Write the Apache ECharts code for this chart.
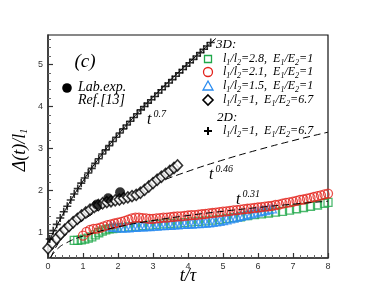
<!DOCTYPE html>
<html><head><meta charset="utf-8">
<script src="https://cdn.jsdelivr.net/npm/echarts@6/dist/echarts.min.js"></script>
<style>html,body{margin:0;padding:0;background:#fff}#c{width:374px;height:291px}</style>
</head><body><div id="c"></div>
<script>
// ---- data ----
const xTicks = [0,1,2,3,4,5,6,7,8];
const yTicks = [1,2,3,4,5];
const yMinorTicks = [0.4,0.6,0.8,1.2,1.4,1.6,1.8,2.2,2.4,2.6,2.8,3.2,3.4,3.6,3.8,4.2,4.4,4.6,4.8,5.2,5.4,5.6];

// 2D: l1/l2=1, E1/E2=6.7 (plus)
const plus2D = [[0.05,0.85],[0.15,1.05],[0.25,1.2],[0.35,1.35],[0.45,1.5],[0.55,1.63],[0.65,1.78],[0.75,1.92],[0.85,2.05],[0.95,2.18],[1.05,2.3],[1.15,2.42],[1.25,2.53],[1.35,2.65],[1.45,2.76],[1.55,2.87],[1.65,2.97],[1.75,3.07],[1.85,3.17],[1.95,3.27],[2.05,3.37],[2.15,3.47],[2.25,3.56],[2.35,3.65],[2.45,3.74],[2.55,3.83],[2.65,3.92],[2.75,4.0],[2.85,4.08],[2.95,4.16],[3.05,4.24],[3.15,4.32],[3.25,4.4],[3.35,4.48],[3.45,4.56],[3.55,4.64],[3.65,4.72],[3.75,4.8],[3.85,4.88],[3.95,4.96],[4.05,5.04],[4.15,5.12],[4.25,5.2],[4.35,5.28],[4.45,5.36],[4.55,5.44],[4.65,5.52]];

// 3D: l1/l2=1, E1/E2=6.7 (diamond)
const diamond3D = [[0.0,0.63],[0.12,0.75],[0.24,0.86],[0.36,0.97],[0.48,1.07],[0.6,1.16],[0.72,1.25],[0.84,1.33],[0.96,1.41],[1.08,1.48],[1.2,1.55],[1.32,1.61],[1.44,1.66],[1.56,1.7],[1.68,1.73],[1.8,1.75],[1.92,1.77],[2.04,1.79],[2.16,1.82],[2.28,1.84],[2.4,1.87],[2.52,1.9],[2.64,1.95],[2.76,2.02],[2.88,2.1],[3.0,2.18],[3.12,2.26],[3.24,2.33],[3.36,2.4],[3.48,2.47],[3.6,2.54],[3.7,2.6]];

// Lab. exp. Ref.[13]
const labExp = [[1.4,1.67],[1.72,1.82],[2.06,1.96]];

// 3D: l1/l2=2.8 (square)
const square28 = [[0.75,0.82],[0.85,0.82],[0.95,0.83],[1.05,0.85],[1.15,0.87],[1.25,0.9],[1.35,0.95],[1.45,1.0],[1.55,1.04],[1.65,1.07],[1.75,1.09],[1.85,1.1],[1.95,1.11],[2.1,1.12],[2.3,1.14],[2.5,1.15],[2.7,1.17],[2.9,1.18],[3.1,1.2],[3.3,1.21],[3.5,1.22],[3.7,1.23],[3.9,1.24],[4.1,1.26],[4.3,1.27],[4.5,1.28],[4.7,1.3],[4.9,1.32],[5.1,1.34],[5.3,1.36],[5.5,1.38],[5.7,1.41],[5.9,1.43],[6.1,1.45],[6.3,1.47],[6.5,1.49],[6.7,1.51],[6.9,1.54],[7.1,1.57],[7.3,1.6],[7.5,1.63],[7.7,1.66],[7.9,1.7],[8.0,1.72]];

// 3D: l1/l2=2.1 (circle)
const circle21 = [[1.0,0.93],[1.1,1.02],[1.2,1.07],[1.3,1.09],[1.4,1.1],[1.5,1.12],[1.6,1.15],[1.7,1.18],[1.8,1.2],[1.9,1.22],[2.0,1.24],[2.1,1.26],[2.2,1.28],[2.3,1.31],[2.4,1.34],[2.5,1.36],[2.6,1.36],[2.7,1.35],[2.8,1.34],[2.9,1.33],[3.0,1.33],[3.1,1.34],[3.2,1.35],[3.3,1.36],[3.4,1.36],[3.5,1.37],[3.6,1.38],[3.7,1.39],[3.8,1.39],[3.9,1.4],[4.0,1.41],[4.1,1.42],[4.2,1.42],[4.3,1.43],[4.4,1.44],[4.5,1.45],[4.6,1.46],[4.7,1.47],[4.8,1.48],[4.9,1.49],[5.0,1.5],[5.1,1.51],[5.2,1.52],[5.3,1.53],[5.4,1.54],[5.5,1.55],[5.6,1.56],[5.7,1.57],[5.8,1.58],[5.9,1.59],[6.0,1.6],[6.1,1.61],[6.2,1.62],[6.3,1.63],[6.4,1.64],[6.5,1.66],[6.6,1.67],[6.7,1.69],[6.8,1.71],[6.9,1.72],[7.0,1.74],[7.1,1.76],[7.2,1.78],[7.3,1.79],[7.4,1.81],[7.5,1.83],[7.6,1.85],[7.7,1.87],[7.8,1.89],[7.9,1.91],[8.0,1.93]];

// 3D: l1/l2=1.5 (triangle)
const triangle15 = [[1.8,1.15],[1.9,1.14],[2.0,1.13],[2.1,1.13],[2.2,1.13],[2.3,1.13],[2.4,1.14],[2.5,1.14],[2.6,1.15],[2.7,1.15],[2.8,1.16],[2.9,1.16],[3.0,1.17],[3.1,1.17],[3.2,1.18],[3.3,1.18],[3.4,1.19],[3.5,1.19],[3.6,1.2],[3.7,1.2],[3.8,1.21],[3.9,1.21],[4.0,1.22],[4.1,1.22],[4.2,1.23],[4.3,1.23],[4.4,1.24],[4.5,1.24],[4.6,1.25],[4.7,1.26],[4.8,1.27],[4.9,1.28],[5.0,1.3],[5.1,1.32],[5.2,1.34],[5.3,1.36],[5.4,1.38],[5.5,1.4],[5.6,1.42],[5.7,1.44],[5.8,1.46],[5.9,1.48],[6.0,1.5],[6.1,1.52],[6.2,1.54],[6.3,1.56],[6.4,1.58]];

// fitted power-law guide lines
const fit07 = [[0.0,0.75],[0.5,1.55],[1.0,2.23],[1.5,2.82],[2.0,3.33],[2.5,3.79],[3.0,4.22],[3.5,4.63],[4.0,5.02],[4.5,5.4],[4.8,5.62]];
const fit046 = [[0.08,0.41],[0.25,0.69],[0.5,0.95],[1,1.3],[2,1.79],[3,2.15],[4,2.46],[5,2.73],[6,2.97],[7,3.19],[8,3.39]];
const fit031 = [[0.07,0.41],[0.25,0.6],[0.5,0.75],[1,0.92],[2,1.14],[3,1.29],[4,1.41],[5,1.51],[6,1.6],[7,1.68],[8,1.75]];

// ---- chart ----
const chart = echarts.init(document.getElementById('c'), null, {renderer:'canvas'});
const serif = '"Liberation Serif","Times New Roman",serif';
const PLUS = 'path://M4,0H6V4H10V6H6V10H4V6H0V4H4Z';
const GREEN = '#1fa84a', RED = '#e3231c', BLUE = '#2a8cf0';
const sub = {fontFamily:serif, fontStyle:'italic', fontSize:8, padding:[7,0,0,0]};
const it = {fontFamily:serif, fontStyle:'italic', fontSize:12};
const legRich = {i:it, s:sub};
function lab(a,b){return '{i|l}{s|1}{i|/l}{s|2}{i|='+a+',  E}{s|1}{i|/E}{s|2}{i|='+b+'}';}

const yMin = 0.4, yMax = 5.7;
chart.setOption({
  animation:false,
  grid:{left:48,right:46,top:35,bottom:33,show:true,borderColor:'#111',borderWidth:1.2,backgroundColor:'transparent'},
  xAxis:{type:'value',min:0,max:8,interval:1,
    axisLine:{show:true,onZero:false,lineStyle:{color:'#333',width:1.5}},
    axisTick:{show:true,inside:true,length:5,lineStyle:{color:'#333',width:1.2}},
    minorTick:{show:true,splitNumber:5,length:3,lineStyle:{color:'#666'}},
    axisLabel:{color:'#333',fontSize:9,fontFamily:'"Liberation Sans",Arial,sans-serif',margin:4,
      formatter:v=>xTicks.includes(v)?String(v):''},
    splitLine:{show:false}},
  yAxis:[{type:'value',min:yMin,max:yMax,
    axisLine:{show:true,onZero:false,lineStyle:{color:'#333',width:1.5}},
    axisTick:{show:true,inside:true,length:5,customValues:yTicks,lineStyle:{color:'#333',width:1.2}},
    axisLabel:{color:'#333',fontSize:9,fontFamily:'"Liberation Sans",Arial,sans-serif',margin:5,customValues:yTicks},
    splitLine:{show:false}},
   {type:'value',min:yMin,max:yMax,position:'left',
    axisLine:{show:false},
    axisTick:{show:true,inside:true,length:3,customValues:yMinorTicks,lineStyle:{color:'#666'}},
    axisLabel:{show:false},splitLine:{show:false}}],
  series:[
    {type:'line',data:fit046,smooth:true,symbol:'none',lineStyle:{color:'#000',width:1,type:[7,4]},z:1},
    {type:'line',data:fit07,smooth:true,symbol:'none',lineStyle:{color:'#000',width:1},z:1},
    {type:'scatter',data:square28,symbol:'rect',symbolSize:8,itemStyle:{color:'rgba(0,0,0,0)',borderColor:GREEN,borderWidth:1.3},z:2},
    {type:'scatter',data:triangle15,symbol:'triangle',symbolSize:9,itemStyle:{color:'rgba(0,0,0,0)',borderColor:BLUE,borderWidth:1.3},z:3},
    {type:'scatter',data:circle21,symbol:'circle',symbolSize:9,itemStyle:{color:'rgba(0,0,0,0)',borderColor:RED,borderWidth:1.3},z:4},
    {type:'line',data:fit031,smooth:true,symbol:'none',lineStyle:{color:'#000',width:1,type:[7,4]},z:5},
    {type:'scatter',data:diamond3D,symbol:'diamond',symbolSize:[10,11],itemStyle:{color:'#fff',borderColor:'#000',borderWidth:1.6},z:6},
    {type:'scatter',data:plus2D,symbol:PLUS,symbolSize:8,itemStyle:{color:'#000'},z:7},
    {type:'scatter',data:labExp,symbol:'circle',symbolSize:10,itemStyle:{color:'#000'},z:8}
  ],
  graphic:[
    {type:'text',x:20,y:150,rotation:Math.PI/2,style:{text:'{a|Δ(t)/l}{b|1}',rich:{a:{fontFamily:serif,fontStyle:'italic',fontSize:18},b:{fontFamily:serif,fontStyle:'italic',fontSize:10,padding:[9,0,0,0]}},align:'center',verticalAlign:'middle'}},
    {type:'text',x:188,y:276,style:{text:'t/τ',fontFamily:serif,fontStyle:'italic',fontSize:18,align:'center',verticalAlign:'middle',fill:'#000'}},
    {type:'text',x:85,y:62,style:{text:'(c)',fontFamily:serif,fontStyle:'italic',fontSize:19,align:'center',verticalAlign:'middle',fill:'#000'}},
    {type:'circle',shape:{cx:67,cy:88,r:4.8},style:{fill:'#000'}},
    {type:'text',x:78,y:87,style:{text:'Lab.exp.',fontFamily:serif,fontStyle:'italic',fontSize:14,verticalAlign:'middle',fill:'#000'}},
    {type:'text',x:78,y:100,style:{text:'Ref.[13]',fontFamily:serif,fontStyle:'italic',fontSize:14,verticalAlign:'middle',fill:'#000'}},
    {type:'text',x:147,y:120,style:{text:'{t|t}{p|0.7}',rich:{t:{fontFamily:serif,fontStyle:'italic',fontSize:16},p:{fontFamily:serif,fontStyle:'italic',fontSize:10,padding:[0,0,12,2]}},verticalAlign:'middle'}},
    {type:'text',x:209,y:175,style:{text:'{t|t}{p|0.46}',rich:{t:{fontFamily:serif,fontStyle:'italic',fontSize:16},p:{fontFamily:serif,fontStyle:'italic',fontSize:10,padding:[0,0,12,2]}},verticalAlign:'middle'}},
    {type:'text',x:236,y:200,style:{text:'{t|t}{p|0.31}',rich:{t:{fontFamily:serif,fontStyle:'italic',fontSize:16},p:{fontFamily:serif,fontStyle:'italic',fontSize:10,padding:[0,0,12,2]}},verticalAlign:'middle'}},
    {type:'text',x:216,y:45,style:{text:'3D:',fontFamily:serif,fontStyle:'italic',fontSize:13,verticalAlign:'middle',fill:'#000'}},
    {type:'rect',shape:{x:204.5,y:55.5,width:7,height:7},style:{fill:'none',stroke:GREEN,lineWidth:1.3}},
    {type:'text',x:223,y:59,style:{text:lab('2.8','1'),rich:legRich,verticalAlign:'middle'}},
    {type:'circle',shape:{cx:208,cy:72,r:4.5},style:{fill:'none',stroke:RED,lineWidth:1.3}},
    {type:'text',x:223,y:72,style:{text:lab('2.1','1'),rich:legRich,verticalAlign:'middle'}},
    {type:'polygon',shape:{points:[[208,81],[213,90],[203,90]]},style:{fill:'none',stroke:BLUE,lineWidth:1.3}},
    {type:'text',x:223,y:86,style:{text:lab('1.5','1'),rich:legRich,verticalAlign:'middle'}},
    {type:'polygon',shape:{points:[[208,95],[213,100],[208,105],[203,100]]},style:{fill:'#fff',stroke:'#000',lineWidth:1.6}},
    {type:'text',x:223,y:100,style:{text:lab('1','6.7'),rich:legRich,verticalAlign:'middle'}},
    {type:'text',x:217,y:118,style:{text:'2D:',fontFamily:serif,fontStyle:'italic',fontSize:13,verticalAlign:'middle',fill:'#000'}},
    {type:'line',shape:{x1:204,y1:131,x2:212,y2:131},style:{stroke:'#000',lineWidth:2}},
    {type:'line',shape:{x1:208,y1:127,x2:208,y2:135},style:{stroke:'#000',lineWidth:2}},
    {type:'text',x:223,y:131,style:{text:lab('1','6.7'),rich:legRich,verticalAlign:'middle'}}
  ]
});
</script></body></html>
